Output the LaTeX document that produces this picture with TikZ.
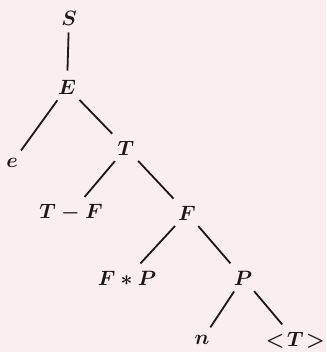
\documentclass[tikz,border=0pt]{standalone}
\definecolor{bg}{RGB}{250,238,238}
\definecolor{ink}{RGB}{30,25,25}
\begin{document}
\begin{tikzpicture}[x=1pt,y=1pt,
  lab/.style={inner sep=2pt,text=ink,font=\fontsize{22}{26}\selectfont\boldmath},
  edge/.style={draw=ink,line width=1.8pt,shorten <=5pt,shorten >=7pt}]
\fill[bg] (0,0) rectangle (326,352);
\useasboundingbox (0,0) rectangle (326,352);
\node[lab] (S) at (69,334) {$S$};
\node[lab] (E) at (67,265) {$E$};
\node[lab] (eps) at (12,189) {$e$};
\node[lab] (T) at (126,204) {$T$};
\node[lab] (TF) at (71,139) {$T-F$};
\node[lab] (F) at (187,139) {$F$};
\node[lab] (FP) at (127,74) {$F*P$};
\node[lab] (P) at (243,74) {$P$};
\node[lab] (n) at (202,12) {$n$};
\node[lab,anchor=east] (TT) at (327,12) {$<\!T\!>$};
\draw[edge] (S) -- (E);
\draw[edge] (E) -- (eps);
\draw[edge] (E) -- (T);
\draw[edge] (T) -- (TF);
\draw[edge] (T) -- (F);
\draw[edge] (F) -- (FP);
\draw[edge] (F) -- (P);
\draw[edge] (P) -- (n);
\draw[edge] (P) -- (TT);
\end{tikzpicture}
\end{document}
